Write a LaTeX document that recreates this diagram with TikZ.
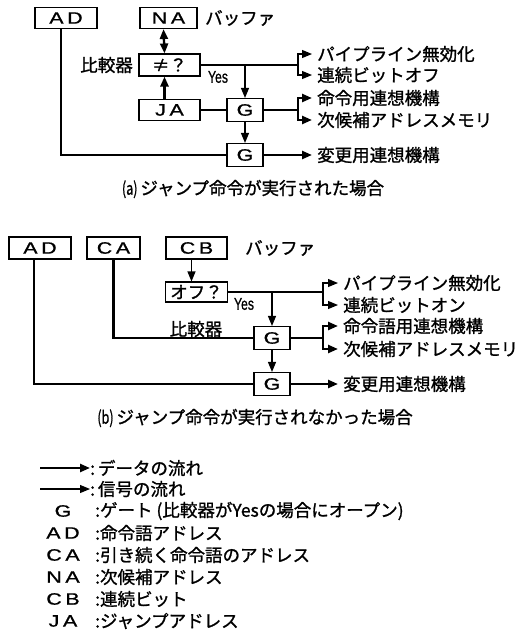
\documentclass[tikz,border=0pt]{standalone}
\usepackage{fontspec}
\usepackage{graphicx}
\usetikzlibrary{arrows.meta,calc}
\newfontfamily\jpfont[FakeBold=1.2]{Noto Sans CJK JP}
\newfontfamily\latfont[FakeBold=0.8]{Liberation Sans}
\newcommand{\widetxt}[1]{\scalebox{1.3}[1]{#1}}
\newcommand{\narrowtxt}[1]{\scalebox{0.72}[1]{#1}}
\tikzset{
  box/.style={draw, line width=1.1pt, inner sep=0pt, minimum height=21pt,
    font=\latfont\fontsize{16.5}{16.5}\selectfont},
  jpbox/.style={box, font=\jpfont\fontsize{17.5}{17.5}\selectfont},
  gate/.style={box, minimum width=36pt, minimum height=23pt},
  lbl/.style={font=\jpfont\fontsize{17.5}{17.5}\selectfont, inner sep=0pt},
  outlbl/.style={lbl, anchor=west, inner xsep=5pt},
  yeslbl/.style={font=\latfont\fontsize{17}{17}\selectfont, inner sep=0pt},
  keylbl/.style={font=\latfont\fontsize{16.5}{16.5}\selectfont, inner sep=0pt},
  data/.style={line width=2.4pt},
  sig/.style={line width=1.1pt},
  >={Triangle[length=10pt,width=8pt]}
}
\begin{document}
\begin{tikzpicture}[x=1pt,y=-1pt]
\useasboundingbox (0,0) rectangle (517,632);

% ---------------- (a) ----------------
\node[box, minimum width=62pt] (ADa) at (66,18) {\widetxt{A\,D}};
\node[box, minimum width=57pt] (NA) at (168.5,18) {\widetxt{N\,A}};
\node[lbl, anchor=west] (bufa) at (205,18) {バッファ};
\node[jpbox, minimum width=61pt, minimum height=22pt] (cmp) at (169.5,65) {≠？};
\node[lbl, anchor=east] (cmpa) at (133,65) {比較器};
\node[box, minimum width=61pt] (JA) at (169.5,110) {\widetxt{J\,A}};
\node[gate] (G1) at (245,110) {\widetxt{G}};
\node[gate] (G2) at (245,155) {\widetxt{G}};
\node[yeslbl] (yesa) at (218,77) {\narrowtxt{Yes}};

\node[outlbl] (pa1) at (312,54) {パイプライン無効化};
\node[outlbl] (pa2) at (312,75) {連続ビットオフ};
\node[outlbl] (pa3) at (312,98) {命令用連想機構};
\node[outlbl] (pa4) at (312,120) {次候補アドレスメモリ};
\node[outlbl] (pa5) at (312,155) {変更用連想機構};
\node[lbl] (capa) at (253,189) {\narrowtxt{(a)}\,ジャンプ命令が実行された場合};

\draw[data,<->] ([xshift=-5pt]NA.south) -- ([xshift=-5pt]cmp.north);
\draw[data,->] ([xshift=-5pt]JA.north) -- ([xshift=-5pt]cmp.south);
\draw[data] (JA.east) -- (G1.west);
\coordinate (ya) at (298,65);
\draw[sig] (cmp.east) -- (ya);
\draw[sig,->] (ya) |- (pa1.west);
\draw[sig,->] (ya) |- (pa2.west);
\draw[sig,->] (cmp.east -| G1.north) -- (G1.north);
\coordinate (ga) at (298,110);
\draw[data] (G1.east) -- (ga);
\draw[data,->] (ga) |- (pa3.west);
\draw[data,->] (ga) |- (pa4.west);
\draw[sig,->] (G1.south) -- (G2.north);
\draw[data] ([xshift=-5pt]ADa.south) |- (G2.west);
\draw[data,->] (G2.east) -- (pa5.west);

% ---------------- (b) ----------------
\node[box, minimum width=62pt, minimum height=22pt] (ADb) at (40,248) {\widetxt{A\,D}};
\node[box, minimum width=53pt, minimum height=22pt] (CA) at (113.5,248) {\widetxt{C\,A}};
\node[box, minimum width=61pt, minimum height=22pt] (CB) at (196.5,248) {\widetxt{C\,B}};
\node[lbl, anchor=west] (bufb) at (245,248) {バッファ};
\node[jpbox, minimum width=62pt, minimum height=20pt] (off) at (196.5,292) {オフ？};
\node[gate] (G3) at (272,338) {\widetxt{G}};
\node[gate] (G4) at (272,384) {\widetxt{G}};
\node[yeslbl] (yesb) at (244,304) {\narrowtxt{Yes}};
\node[lbl] (cmpb) at (196,329) {比較器};

\node[outlbl] (pb1) at (338,283) {パイプライン無効化};
\node[outlbl] (pb2) at (338,305) {連続ビットオン};
\node[outlbl] (pb3) at (338,326) {命令語用連想機構};
\node[outlbl] (pb4) at (338,349) {次候補アドレスメモリ};
\node[outlbl] (pb5) at (338,384) {変更用連想機構};
\node[lbl] (capb) at (255,418) {\narrowtxt{(b)}\,ジャンプ命令が実行されなかった場合};

\draw[sig,->] ([xshift=-5pt]CB.south) -- ([xshift=-5pt]off.north);
\coordinate (yb) at (323,292);
\draw[sig] (off.east) -- (yb);
\draw[sig,->] (yb) |- (pb1.west);
\draw[sig,->] (yb) |- (pb2.west);
\draw[sig,->] (off.east -| G3.north) -- (G3.north);
\draw[data] (CA.south) |- (G3.west);
\coordinate (gb) at (323,338);
\draw[data] (G3.east) -- (gb);
\draw[data,->] (gb) |- (pb3.west);
\draw[data,->] (gb) |- (pb4.west);
\draw[sig,->] (G3.south) -- (G4.north);
\draw[data] ([xshift=-6pt]ADb.south) |- (G4.west);
\draw[data,->] (G4.east) -- (pb5.west);

% ---------------- legend ----------------
\coordinate (l1s) at (40,468);
\node[lbl, anchor=west] (l1) at (90,468) {:\,データの流れ};
\draw[data,->] (l1s) -- (l1.west);
\coordinate (l2s) at (40,489);
\node[lbl, anchor=west] (l2) at (90,489) {:\,信号の流れ};
\draw[sig,->] (l2s) -- (l2.west);

\node[keylbl] (kG) at (63,511) {\widetxt{G}};
\node[lbl, anchor=west] (tG) at (95,511) {:ゲート (比較器がYesの場合にオープン)};
\node[keylbl] (kAD) at (63,533) {\widetxt{A\,D}};
\node[lbl, anchor=west] (tAD) at (95,533) {:命令語アドレス};
\node[keylbl] (kCA) at (63,555) {\widetxt{C\,A}};
\node[lbl, anchor=west] (tCA) at (95,555) {:引き続く命令語のアドレス};
\node[keylbl] (kNA) at (63,577) {\widetxt{N\,A}};
\node[lbl, anchor=west] (tNA) at (95,577) {:次候補アドレス};
\node[keylbl] (kCB) at (63,599) {\widetxt{C\,B}};
\node[lbl, anchor=west] (tCB) at (95,599) {:連続ビット};
\node[keylbl] (kJA) at (63,621) {\widetxt{J\,A}};
\node[lbl, anchor=west] (tJA) at (95,621) {:ジャンプアドレス};
\end{tikzpicture}
\end{document}
